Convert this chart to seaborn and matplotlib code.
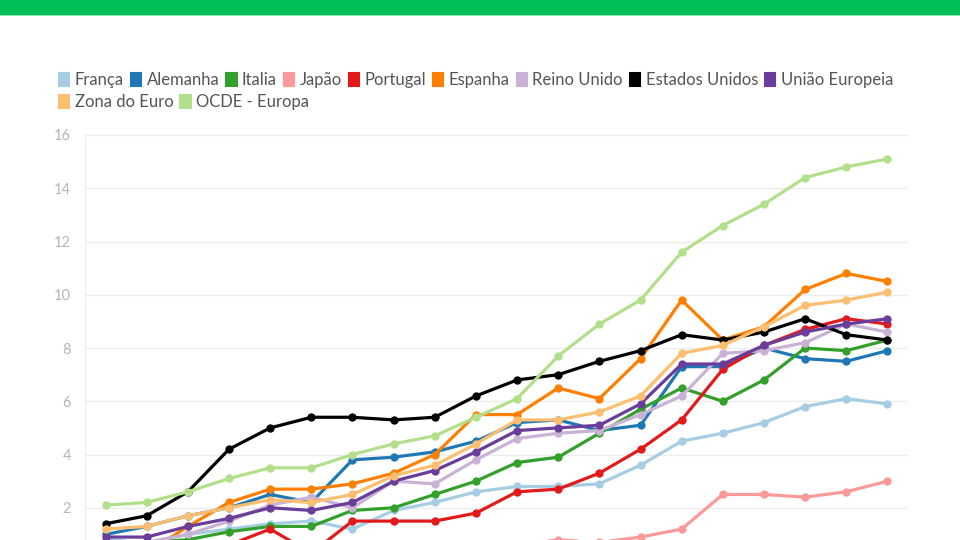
import pandas as pd
import seaborn as sns
import matplotlib.pyplot as plt
from matplotlib.patches import Patch, Rectangle

# Values (lower part of the chart is cropped in the reference)
anos = [2000, 2001, 2002, 2003, 2004, 2005, 2006, 2007, 2008, 2009,
        2010, 2011, 2012, 2013, 2014, 2015, 2016, 2017, 2018, 2019]

franca = [0.8, 0.7, 1.0, 1.2, 1.4, 1.5, 1.2, 1.9, 2.2, 2.6, 2.8, 2.8, 2.9, 3.6, 4.5, 4.8, 5.2, 5.8, 6.1, 5.9]
alemanha = [1.0, 1.3, 1.7, 2.0, 2.5, 2.2, 3.8, 3.9, 4.1, 4.5, 5.2, 5.3, 4.9, 5.1, 7.3, 7.3, 8.0, 7.6, 7.5, 7.9]
italia = [0.6, 0.7, 0.8, 1.1, 1.3, 1.3, 1.9, 2.0, 2.5, 3.0, 3.7, 3.9, 4.8, 5.7, 6.5, 6.0, 6.8, 8.0, 7.9, 8.3]
japao = [0.4, 0.4, 0.4, 0.5, 0.5, 0.5, 0.5, 0.5, 0.5, 0.6, 0.6, 0.8, 0.7, 0.9, 1.2, 2.5, 2.5, 2.4, 2.6, 3.0]
portugal = [0.4, 0.4, 0.5, 0.6, 1.2, 0.3, 1.5, 1.5, 1.5, 1.8, 2.6, 2.7, 3.3, 4.2, 5.3, 7.2, 8.1, 8.7, 9.1, 8.9]
espanha = [0.4, 0.3, 1.3, 2.2, 2.7, 2.7, 2.9, 3.3, 4.0, 5.5, 5.5, 6.5, 6.1, 7.6, 9.8, 8.3, 8.8, 10.2, 10.8, 10.5]
reino_unido = [0.7, 0.7, 1.0, 1.5, 2.1, 2.4, 2.0, 3.0, 2.9, 3.8, 4.6, 4.8, 4.9, 5.5, 6.2, 7.8, 7.9, 8.2, 8.9, 8.6]
eua = [1.4, 1.7, 2.6, 4.2, 5.0, 5.4, 5.4, 5.3, 5.4, 6.2, 6.8, 7.0, 7.5, 7.9, 8.5, 8.3, 8.6, 9.1, 8.5, 8.3]
ue = [0.9, 0.9, 1.3, 1.6, 2.0, 1.9, 2.2, 3.0, 3.4, 4.1, 4.9, 5.0, 5.1, 5.9, 7.4, 7.4, 8.1, 8.6, 8.9, 9.1]
zona_euro = [1.2, 1.3, 1.7, 2.0, 2.3, 2.2, 2.5, 3.2, 3.6, 4.4, 5.3, 5.3, 5.6, 6.2, 7.8, 8.1, 8.8, 9.6, 9.8, 10.1]
ocde = [2.1, 2.2, 2.6, 3.1, 3.5, 3.5, 4.0, 4.4, 4.7, 5.4, 6.1, 7.7, 8.9, 9.8, 11.6, 12.6, 13.4, 14.4, 14.8, 15.1]

series = {
    "França": franca,
    "Alemanha": alemanha,
    "Italia": italia,
    "Japão": japao,
    "Portugal": portugal,
    "Espanha": espanha,
    "Reino Unido": reino_unido,
    "Estados Unidos": eua,
    "União Europeia": ue,
    "Zona do Euro": zona_euro,
    "OCDE - Europa": ocde,
}

cores = {
    "França": "#a6cee3", "Alemanha": "#1f78b4", "Italia": "#33a02c",
    "Japão": "#fb9a99", "Portugal": "#e31a1c", "Espanha": "#ff7f00",
    "Reino Unido": "#cab2d6", "Estados Unidos": "#000000",
    "União Europeia": "#6a3d9a", "Zona do Euro": "#fdbf6f", "OCDE - Europa": "#b2df8a",
}

rows = []
for pais, vals in series.items():
    for ano, v in zip(anos, vals):
        rows.append({"ano": ano, "valor": v, "pais": pais})
df = pd.DataFrame(rows)

sns.set_style("white")
plt.rcParams["font.family"] = ["Lato", "DejaVu Sans"]

fig = plt.figure(figsize=(9.6, 5.4), dpi=100)
ax = fig.add_axes([85 / 960, 0.0, (908 - 85) / 960, 1 - 135 / 540])

sns.lineplot(data=df, x="ano", y="valor", hue="pais", hue_order=list(series.keys()),
             palette=cores, marker="o", markersize=6, markeredgewidth=0,
             linewidth=2.3, legend=False, ax=ax)

ax.set_xlim(anos[0] - 0.5, anos[-1] + 0.5)
ax.set_ylim(0.79, 16)
ax.set_yticks([2, 4, 6, 8, 10, 12, 14, 16])
ax.set_xticks([])
ax.set_xlabel("")
ax.set_ylabel("")
ax.grid(axis="y", color="#ececec", linewidth=1)
ax.tick_params(axis="y", colors="#eeeeee", labelcolor="#b5b5b5", labelsize=10.5, length=6, pad=4)
for s in ["top", "right", "bottom"]:
    ax.spines[s].set_visible(False)
ax.spines["left"].set_color("#eeeeee")

# green banner at the top
fig.patches.append(Rectangle((0, 1 - 15 / 540), 1, 15 / 540, transform=fig.transFigure,
                             facecolor="#00bf56", edgecolor="none"))
fig.patches.append(Rectangle((0, 1 - 16 / 540), 1, 1.5 / 540, transform=fig.transFigure,
                             facecolor="#8eeabb", edgecolor="none"))

# legend in two rows
nomes = list(series.keys())
handles = [Patch(facecolor=cores[n], edgecolor=cores[n], linewidth=1.5, joinstyle="round") for n in nomes]
leg_kw = dict(frameon=False, handlelength=0.62, handleheight=0.85, handletextpad=0.32,
              columnspacing=0.42, fontsize=12, labelcolor="#555555", borderaxespad=0, borderpad=0)
leg1 = fig.legend(handles[:9], nomes[:9], ncol=9, loc="upper left",
                  bbox_to_anchor=(59 / 960, 1 - 72 / 540), **leg_kw)
leg2 = fig.legend(handles[9:], nomes[9:], ncol=2, loc="upper left",
                  bbox_to_anchor=(59 / 960, 1 - 94 / 540), **leg_kw)

fig.savefig("out.png", dpi=100)
